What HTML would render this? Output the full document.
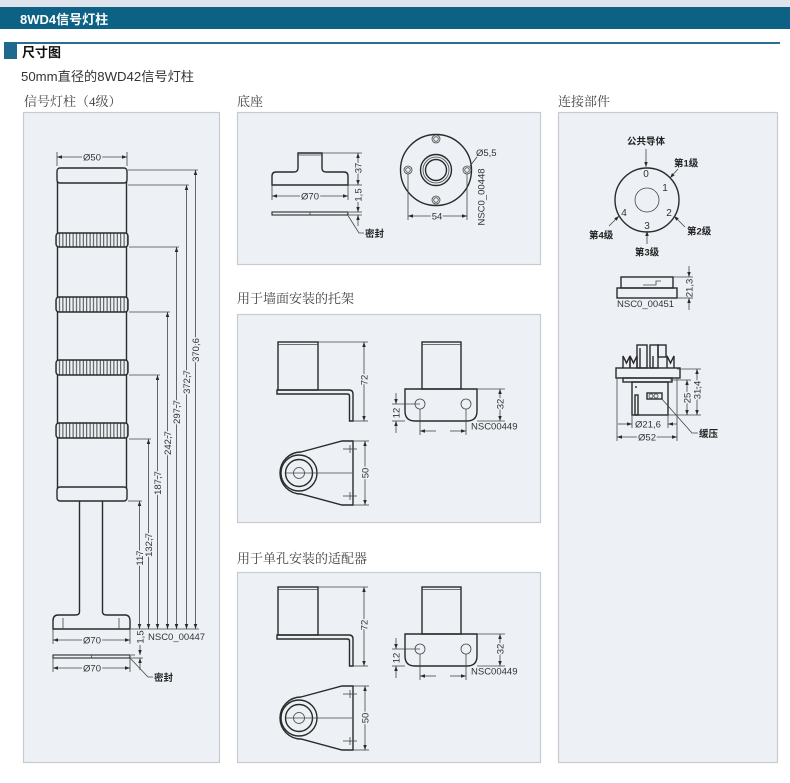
<!DOCTYPE html>
<html><head><meta charset="utf-8">
<style>
html,body{margin:0;padding:0;background:#fff;}
svg{display:block;}
.t{font-family:"Liberation Sans","Noto Sans CJK SC",sans-serif;font-size:9.5px;fill:#333;}
.b{font-weight:bold;fill:#222;font-size:9.5px;}
.m{paint-order:stroke;stroke:#edf1f5;stroke-width:3px;stroke-linejoin:round;}
.s{fill:none;stroke:#2a2a2a;stroke-width:1.4;}
.d{fill:none;stroke:#444;stroke-width:0.8;}
.p{fill:#edf1f5;stroke:#c6cbd1;stroke-width:1.2;}
.h{font-family:"Liberation Serif","Noto Serif CJK SC",serif;font-size:13px;fill:#444;}
</style></head>
<body>
<svg width="790" height="783" viewBox="0 0 790 783" xmlns="http://www.w3.org/2000/svg">
<defs>
<marker id="ar" viewBox="0 0 10 10" refX="10" refY="5" markerWidth="6" markerHeight="5" markerUnits="userSpaceOnUse" orient="auto-start-reverse"><path d="M0,1.5 L10,5 L0,8.5 z" fill="#2a2a2a"/></marker>
<pattern id="hatch" width="3.4" height="20" patternUnits="userSpaceOnUse" x="0.5"><rect width="3.4" height="20" fill="#edf1f5"/><line x1="1.2" y1="0" x2="1.2" y2="20" stroke="#333" stroke-width="0.9"/></pattern>
</defs>

<!-- header -->
<rect x="0" y="0" width="790" height="7" fill="#dfe4ec"/>
<rect x="0" y="7" width="790" height="22" fill="#0c6185"/>
<text x="20" y="24" style="font-family:'Liberation Sans','Noto Sans CJK SC',sans-serif;font-size:13px;font-weight:bold;fill:#fff;">8WD4信号灯柱</text>
<rect x="4" y="42" width="776" height="2" fill="#2b6f90"/>
<rect x="4" y="42" width="13" height="17" fill="#1d6a8e"/>
<text x="22" y="57" style="font-family:'Liberation Sans','Noto Sans CJK SC',sans-serif;font-size:13px;font-weight:bold;fill:#111;">尺寸图</text>
<text x="21" y="81" textLength="173" lengthAdjust="spacingAndGlyphs" style="font-family:'Liberation Sans','Noto Sans CJK SC',sans-serif;font-size:13px;fill:#333;">50mm直径的8WD42信号灯柱</text>

<text class="h" x="24" y="106">信号灯柱（4级）</text>
<text class="h" x="237" y="106">底座</text>
<text class="h" x="558" y="106">连接部件</text>
<text class="h" x="237" y="303">用于墙面安装的托架</text>
<text class="h" x="237" y="563">用于单孔安装的适配器</text>

<!-- panels -->
<rect class="p" x="23.5" y="112.5" width="196" height="650"/>
<rect class="p" x="237.5" y="112.5" width="303" height="152"/>
<rect class="p" x="237.5" y="314.5" width="303" height="208"/>
<rect class="p" x="237.5" y="572.5" width="303" height="190"/>
<rect class="p" x="558.5" y="112.5" width="219" height="650"/>

<!-- ===== Signal tower ===== -->
<rect class="s" x="57.5" y="180" width="69" height="310"/>
<rect x="57" y="168" width="70" height="15" rx="3" fill="#edf1f5" stroke="#2a2a2a" stroke-width="1.4"/>
<rect x="56" y="233" width="72" height="14" rx="3" fill="url(#hatch)" stroke="#2a2a2a" stroke-width="1.4"/>
<rect x="56" y="297" width="72" height="15" rx="3" fill="url(#hatch)" stroke="#2a2a2a" stroke-width="1.4"/>
<rect x="56" y="360" width="72" height="15" rx="3" fill="url(#hatch)" stroke="#2a2a2a" stroke-width="1.4"/>
<rect x="56" y="423" width="72" height="15" rx="3" fill="url(#hatch)" stroke="#2a2a2a" stroke-width="1.4"/>
<rect x="57" y="487" width="70" height="14" rx="3" fill="#edf1f5" stroke="#2a2a2a" stroke-width="1.4"/>
<line class="s" x1="79.5" y1="501" x2="79.5" y2="612"/>
<line class="s" x1="102.5" y1="501" x2="102.5" y2="612"/>
<path class="s" d="M79.5,612 Q79.5,615 75,615 L58,615 Q53,615 53,621 L53,629 L130,629 L130,621 Q130,615 125,615 L107,615 Q102.5,615 102.5,612"/>
<line class="d" x1="63" y1="618" x2="63" y2="629"/>
<line class="d" x1="119" y1="618" x2="119" y2="629"/>

<!-- Ø50 -->
<line class="d" x1="57" y1="152" x2="57" y2="166"/>
<line class="d" x1="127" y1="152" x2="127" y2="166"/>
<line class="d" x1="57" y1="157" x2="127" y2="157" marker-start="url(#ar)" marker-end="url(#ar)"/>
<text class="t m" x="92" y="160.5" text-anchor="middle">Ø50</text>

<!-- ext lines -->
<g class="d">
<line x1="128" y1="501" x2="142" y2="501"/>
<line x1="129" y1="439" x2="151" y2="439"/>
<line x1="129" y1="375" x2="160" y2="375"/>
<line x1="129" y1="312" x2="170" y2="312"/>
<line x1="129" y1="247" x2="179" y2="247"/>
<line x1="128" y1="185" x2="189" y2="185"/>
<line x1="128" y1="170" x2="198" y2="170"/>
<line x1="131" y1="629" x2="199" y2="629"/>
<line x1="131" y1="658" x2="143" y2="658"/>
<line x1="131" y1="655" x2="135" y2="655"/>
</g>
<g class="d">
<line x1="139.5" y1="501" x2="139.5" y2="629" marker-start="url(#ar)" marker-end="url(#ar)"/>
<line x1="148.5" y1="439" x2="148.5" y2="629" marker-start="url(#ar)" marker-end="url(#ar)"/>
<line x1="157.5" y1="375" x2="157.5" y2="629" marker-start="url(#ar)" marker-end="url(#ar)"/>
<line x1="167.5" y1="312" x2="167.5" y2="629" marker-start="url(#ar)" marker-end="url(#ar)"/>
<line x1="176.5" y1="247" x2="176.5" y2="629" marker-start="url(#ar)" marker-end="url(#ar)"/>
<line x1="186.5" y1="185" x2="186.5" y2="629" marker-start="url(#ar)" marker-end="url(#ar)"/>
<line x1="195.5" y1="170" x2="195.5" y2="629" marker-start="url(#ar)" marker-end="url(#ar)"/>
</g>
<text class="t m" transform="translate(139.5,558) rotate(-90)" text-anchor="middle" dy="3.3">117</text>
<text class="t m" transform="translate(148.5,545) rotate(-90)" text-anchor="middle" dy="3.3">132,7</text>
<text class="t m" transform="translate(157.5,483) rotate(-90)" text-anchor="middle" dy="3.3">187,7</text>
<text class="t m" transform="translate(167.5,443) rotate(-90)" text-anchor="middle" dy="3.3">242,7</text>
<text class="t m" transform="translate(176.5,412) rotate(-90)" text-anchor="middle" dy="3.3">297,7</text>
<text class="t m" transform="translate(186.5,382) rotate(-90)" text-anchor="middle" dy="3.3">372,7</text>
<text class="t m" transform="translate(195.5,350) rotate(-90)" text-anchor="middle" dy="3.3">370,6</text>

<!-- Ø70 and seal -->
<line class="d" x1="53" y1="629" x2="53" y2="644"/>
<line class="d" x1="130" y1="629" x2="130" y2="644"/>
<line class="d" x1="53" y1="640" x2="130" y2="640" marker-start="url(#ar)" marker-end="url(#ar)"/>
<text class="t m" x="92" y="643.5" text-anchor="middle">Ø70</text>
<text class="t" x="148" y="640">NSC0_00447</text>
<text class="t" transform="translate(140,637) rotate(-90)" text-anchor="middle" dy="3.3">1,5</text>
<line class="d" x1="140" y1="645" x2="140" y2="655" marker-end="url(#ar)"/>
<line class="d" x1="140" y1="670" x2="140" y2="658" marker-end="url(#ar)"/>
<rect x="53" y="655" width="77" height="3" fill="#edf1f5" stroke="#2a2a2a" stroke-width="1.1"/>
<line class="d" x1="91.5" y1="655" x2="91.5" y2="658"/>
<line class="d" x1="53" y1="658" x2="53" y2="672"/>
<line class="d" x1="130" y1="658" x2="130" y2="672"/>
<line class="d" x1="53" y1="668" x2="130" y2="668" marker-start="url(#ar)" marker-end="url(#ar)"/>
<text class="t m" x="92" y="671.5" text-anchor="middle">Ø70</text>
<polyline class="d" points="129,657 148,677 153,677"/>
<text class="t b" x="154" y="681">密封</text>

<!-- ===== 底座 ===== -->
<path class="s" d="M272,185 L272,176 Q272,172 276,172 L294,172 Q298,172 298,168 L298,153 L322,153 L322,168 Q322,172 326,172 L344,172 Q348,172 348,176 L348,185 Z"/>
<line class="d" x1="298" y1="155" x2="322" y2="155"/>
<line class="d" x1="322" y1="153" x2="362" y2="153"/>
<line class="d" x1="348" y1="185" x2="362" y2="185"/>
<line class="d" x1="358" y1="153" x2="358" y2="185" marker-start="url(#ar)" marker-end="url(#ar)"/>
<text class="t m" transform="translate(358,168) rotate(-90)" text-anchor="middle" dy="3.3">37</text>
<line class="d" x1="272" y1="185" x2="272" y2="200"/>
<line class="d" x1="348" y1="185" x2="348" y2="200"/>
<line class="d" x1="272" y1="196" x2="348" y2="196" marker-start="url(#ar)" marker-end="url(#ar)"/>
<text class="t m" x="310" y="199.5" text-anchor="middle">Ø70</text>
<text class="t" transform="translate(358,195) rotate(-90)" text-anchor="middle" dy="3.3">1,5</text>
<line class="d" x1="358" y1="202" x2="358" y2="212" marker-end="url(#ar)"/>
<line class="d" x1="358" y1="226" x2="358" y2="215" marker-end="url(#ar)"/>
<line class="d" x1="349" y1="212" x2="362" y2="212"/>
<line class="d" x1="349" y1="215" x2="362" y2="215"/>
<rect x="272" y="212" width="76" height="3" fill="#edf1f5" stroke="#2a2a2a" stroke-width="1.1"/>
<line class="d" x1="310" y1="212" x2="310" y2="215"/>
<polyline class="d" points="347,214 359,233 364,233"/>
<text class="t b" x="365" y="237">密封</text>

<circle class="s" cx="436" cy="170" r="35.5" stroke-width="1.6"/>
<circle class="s" cx="436" cy="170" r="15.5"/>
<circle class="d" cx="436" cy="170" r="13"/>
<circle class="s" cx="436" cy="170" r="10.5"/>
<g>
<circle class="d" cx="436" cy="139" r="4"/><circle class="d" cx="436" cy="139" r="2.3"/>
<circle class="d" cx="436" cy="200" r="4"/><circle class="d" cx="436" cy="200" r="2.3"/>
<circle class="d" cx="408" cy="170" r="4"/><circle class="d" cx="408" cy="170" r="2.3"/>
<circle class="d" cx="467" cy="170" r="4"/><circle class="d" cx="467" cy="170" r="2.3"/>
</g>
<line class="d" x1="408" y1="174" x2="408" y2="220"/>
<line class="d" x1="467" y1="174" x2="467" y2="220"/>
<line class="d" x1="408" y1="216" x2="467" y2="216" marker-start="url(#ar)" marker-end="url(#ar)"/>
<text class="t m" x="437" y="219.5" text-anchor="middle">54</text>
<line class="d" x1="470" y1="166" x2="477" y2="157"/>
<text class="t" x="476" y="156">Ø5,5</text>
<text class="t" transform="translate(481,197) rotate(-90)" text-anchor="middle" dy="3.3">NSC0_00448</text>

<!-- ===== Brackets ===== -->
<g>
<rect class="s" x="278" y="342" width="40" height="48"/>
<line class="d" x1="278" y1="344.5" x2="318" y2="344.5"/>
<path class="s" d="M277,390 L349,390 Q353,390 353,394 L353,421 L349.5,421 L349.5,396 Q349.5,394 347,394 L277,394 Z"/>
<line class="d" x1="318" y1="342" x2="368" y2="342"/>
<line class="d" x1="353" y1="421" x2="368" y2="421"/>
<line class="d" x1="364" y1="342" x2="364" y2="421" marker-start="url(#ar)" marker-end="url(#ar)"/>
<text class="t m" transform="translate(364,380) rotate(-90)" text-anchor="middle" dy="3.3">72</text>
<path class="s" d="M301,452 L342,441 L353,441 L353,505 L342,505 L301,494 A21,21 0 1,1 301,452 Z"/>
<circle class="s" cx="299" cy="473" r="18"/>
<circle class="s" cx="299" cy="473" r="13.5"/>
<circle class="d" cx="299" cy="473" r="5.5"/>
<line class="d" x1="286" y1="473" x2="352" y2="473"/>
<line class="d" x1="343" y1="449" x2="357" y2="449"/><line class="d" x1="350" y1="445" x2="350" y2="453"/>
<line class="d" x1="343" y1="496" x2="357" y2="496"/><line class="d" x1="350" y1="492" x2="350" y2="500"/>
<line class="d" x1="353" y1="441" x2="369" y2="441"/>
<line class="d" x1="353" y1="505" x2="369" y2="505"/>
<line class="d" x1="365" y1="441" x2="365" y2="505" marker-start="url(#ar)" marker-end="url(#ar)"/>
<text class="t m" transform="translate(365,473) rotate(-90)" text-anchor="middle" dy="3.3">50</text>
<rect class="s" x="422" y="342" width="39" height="47"/>
<line class="d" x1="422" y1="344.5" x2="461" y2="344.5"/>
<path class="s" d="M405,389 H477 V411 Q477,421 467,421 H415 Q405,421 405,411 Z"/>
<circle class="d" cx="420" cy="404" r="5"/>
<circle class="d" cx="466" cy="404" r="5"/>
<line class="d" x1="477" y1="389" x2="505" y2="389"/>
<line class="d" x1="477" y1="421" x2="505" y2="421"/>
<line class="d" x1="500" y1="389" x2="500" y2="421" marker-start="url(#ar)" marker-end="url(#ar)"/>
<text class="t m" transform="translate(500,404) rotate(-90)" text-anchor="middle" dy="3.3">32</text>
<line class="d" x1="392" y1="404" x2="420" y2="404"/>
<line class="d" x1="392" y1="421" x2="405" y2="421"/>
<line class="d" x1="396" y1="393" x2="396" y2="404" marker-end="url(#ar)"/>
<line class="d" x1="396" y1="433" x2="396" y2="421" marker-end="url(#ar)"/>
<text class="t" transform="translate(396,413) rotate(-90)" text-anchor="middle" dy="3.3">12</text>
<line class="d" x1="420" y1="409" x2="420" y2="435"/>
<line class="d" x1="466" y1="409" x2="466" y2="435"/>
<line class="d" x1="420" y1="431" x2="436" y2="431" marker-start="url(#ar)"/>
<line class="d" x1="450" y1="431" x2="466" y2="431" marker-end="url(#ar)"/>
<text class="t" x="471" y="429.5">NSC00449</text>
</g>

<g transform="translate(0,245)">
<rect class="s" x="278" y="342" width="40" height="48"/>
<line class="d" x1="278" y1="344.5" x2="318" y2="344.5"/>
<path class="s" d="M277,390 L349,390 Q353,390 353,394 L353,421 L349.5,421 L349.5,396 Q349.5,394 347,394 L277,394 Z"/>
<line class="d" x1="318" y1="342" x2="368" y2="342"/>
<line class="d" x1="353" y1="421" x2="368" y2="421"/>
<line class="d" x1="364" y1="342" x2="364" y2="421" marker-start="url(#ar)" marker-end="url(#ar)"/>
<text class="t m" transform="translate(364,380) rotate(-90)" text-anchor="middle" dy="3.3">72</text>
<path class="s" d="M301,452 L342,441 L353,441 L353,505 L342,505 L301,494 A21,21 0 1,1 301,452 Z"/>
<circle class="s" cx="299" cy="473" r="18"/>
<circle class="s" cx="299" cy="473" r="13.5"/>
<circle class="d" cx="299" cy="473" r="5.5"/>
<line class="d" x1="286" y1="473" x2="352" y2="473"/>
<line class="d" x1="343" y1="449" x2="357" y2="449"/><line class="d" x1="350" y1="445" x2="350" y2="453"/>
<line class="d" x1="343" y1="496" x2="357" y2="496"/><line class="d" x1="350" y1="492" x2="350" y2="500"/>
<line class="d" x1="353" y1="441" x2="369" y2="441"/>
<line class="d" x1="353" y1="505" x2="369" y2="505"/>
<line class="d" x1="365" y1="441" x2="365" y2="505" marker-start="url(#ar)" marker-end="url(#ar)"/>
<text class="t m" transform="translate(365,473) rotate(-90)" text-anchor="middle" dy="3.3">50</text>
<rect class="s" x="422" y="342" width="39" height="47"/>
<line class="d" x1="422" y1="344.5" x2="461" y2="344.5"/>
<path class="s" d="M405,389 H477 V411 Q477,421 467,421 H415 Q405,421 405,411 Z"/>
<circle class="d" cx="420" cy="404" r="5"/>
<circle class="d" cx="466" cy="404" r="5"/>
<line class="d" x1="477" y1="389" x2="505" y2="389"/>
<line class="d" x1="477" y1="421" x2="505" y2="421"/>
<line class="d" x1="500" y1="389" x2="500" y2="421" marker-start="url(#ar)" marker-end="url(#ar)"/>
<text class="t m" transform="translate(500,404) rotate(-90)" text-anchor="middle" dy="3.3">32</text>
<line class="d" x1="392" y1="404" x2="420" y2="404"/>
<line class="d" x1="392" y1="421" x2="405" y2="421"/>
<line class="d" x1="396" y1="393" x2="396" y2="404" marker-end="url(#ar)"/>
<line class="d" x1="396" y1="433" x2="396" y2="421" marker-end="url(#ar)"/>
<text class="t" transform="translate(396,413) rotate(-90)" text-anchor="middle" dy="3.3">12</text>
<line class="d" x1="420" y1="409" x2="420" y2="435"/>
<line class="d" x1="466" y1="409" x2="466" y2="435"/>
<line class="d" x1="420" y1="431" x2="436" y2="431" marker-start="url(#ar)"/>
<line class="d" x1="450" y1="431" x2="466" y2="431" marker-end="url(#ar)"/>
<text class="t" x="471" y="429.5">NSC00449</text>
</g>

<!-- ===== 连接部件 ===== -->
<text class="t b" x="646" y="144.5" text-anchor="middle">公共导体</text>
<line class="d" x1="646" y1="149" x2="646" y2="167" marker-end="url(#ar)"/>
<circle class="s" cx="647" cy="200" r="32" stroke-width="1.6"/>
<circle class="d" cx="647" cy="200" r="12"/>
<g class="t" style="font-size:10px">
<text x="646" y="177" text-anchor="middle">0</text>
<text x="665" y="191" text-anchor="middle">1</text>
<text x="669" y="216" text-anchor="middle">2</text>
<text x="647" y="229" text-anchor="middle">3</text>
<text x="624" y="216" text-anchor="middle">4</text>
</g>
<text class="t b" x="674" y="166.5">第1级</text>
<line class="d" x1="678" y1="169" x2="670" y2="178" marker-end="url(#ar)"/>
<text class="t b" x="687" y="234.5">第2级</text>
<line class="d" x1="685" y1="227" x2="674" y2="216" marker-end="url(#ar)"/>
<text class="t b" x="647" y="255.5" text-anchor="middle">第3级</text>
<line class="d" x1="647" y1="244" x2="647" y2="231" marker-end="url(#ar)"/>
<text class="t b" x="589" y="238.5">第4级</text>
<line class="d" x1="609" y1="226" x2="619" y2="216" marker-end="url(#ar)"/>

<!-- side view connector -->
<rect class="s" x="621" y="277" width="52" height="11"/>
<rect class="s" x="617" y="288" width="60" height="10"/>
<polyline class="d" points="643,285 656,285 656,281 661,281"/>
<line class="d" x1="673" y1="277" x2="693" y2="277"/>
<line class="d" x1="677" y1="298" x2="693" y2="298"/>
<line class="d" x1="689" y1="266" x2="689" y2="277" marker-end="url(#ar)"/>
<line class="d" x1="689" y1="310" x2="689" y2="298" marker-end="url(#ar)"/>
<text class="t" transform="translate(689,288) rotate(-90)" text-anchor="middle" dy="3.3">21,3</text>
<text class="t" x="617" y="307">NSC0_00451</text>

<!-- bottom connector -->
<g class="s" stroke-width="1.1">
<polyline points="623,368 623,356 626.5,363 630,356 630,368"/>
<polyline points="630,368 630,356 633.5,363 637,356 637,368"/>
<rect x="637" y="345" width="10" height="23"/>
<line x1="640" y1="348" x2="640" y2="368"/>
<rect x="650" y="345" width="8" height="23"/>
<rect x="658" y="345" width="8" height="12"/>
<line x1="653" y1="356" x2="653" y2="368"/>
<polyline points="667,368 667,356 670.5,363 674,356 674,368"/>
</g>
<rect class="s" x="616" y="368" width="64" height="10" fill="#edf1f5"/>
<rect class="s" x="623" y="378" width="49" height="4" stroke-width="1.1"/>
<rect class="s" x="632" y="382" width="36" height="33" stroke-width="1.1"/>
<rect class="s" x="635" y="395" width="3" height="20" stroke-width="0.9"/>
<circle cx="636" cy="387" r="1" fill="#333"/>
<rect class="s" x="647" y="393" width="15" height="6" stroke-width="0.9"/>
<circle class="d" cx="651" cy="396" r="2"/>
<circle class="d" cx="656" cy="396" r="2"/>
<line class="d" x1="617" y1="378" x2="617" y2="441"/>
<line class="d" x1="677" y1="378" x2="677" y2="441"/>
<line class="d" x1="632" y1="415" x2="632" y2="428"/>
<line class="d" x1="668" y1="415" x2="668" y2="428"/>
<line class="d" x1="618" y1="424" x2="632" y2="424" marker-end="url(#ar)"/>
<line class="d" x1="677" y1="424" x2="668" y2="424" marker-end="url(#ar)"/>
<text class="t" x="648" y="427.5" text-anchor="middle">Ø21,6</text>
<line class="d" x1="617" y1="437" x2="677" y2="437" marker-start="url(#ar)" marker-end="url(#ar)"/>
<text class="t m" x="647" y="440.5" text-anchor="middle">Ø52</text>
<line class="d" x1="677" y1="369" x2="701" y2="369"/>
<line class="d" x1="670" y1="380" x2="691" y2="380"/>
<line class="d" x1="668" y1="415" x2="701" y2="415"/>
<line class="d" x1="687" y1="380" x2="687" y2="415" marker-start="url(#ar)" marker-end="url(#ar)"/>
<text class="t m" transform="translate(687,398) rotate(-90)" text-anchor="middle" dy="3.3">25</text>
<line class="d" x1="697" y1="369" x2="697" y2="415" marker-start="url(#ar)" marker-end="url(#ar)"/>
<text class="t m" transform="translate(697,390) rotate(-90)" text-anchor="middle" dy="3.3">31,4</text>
<polyline class="d" points="661,398 692,433 698,433"/>
<text class="t b" x="699" y="437">缓压</text>
</svg>
</body></html>
